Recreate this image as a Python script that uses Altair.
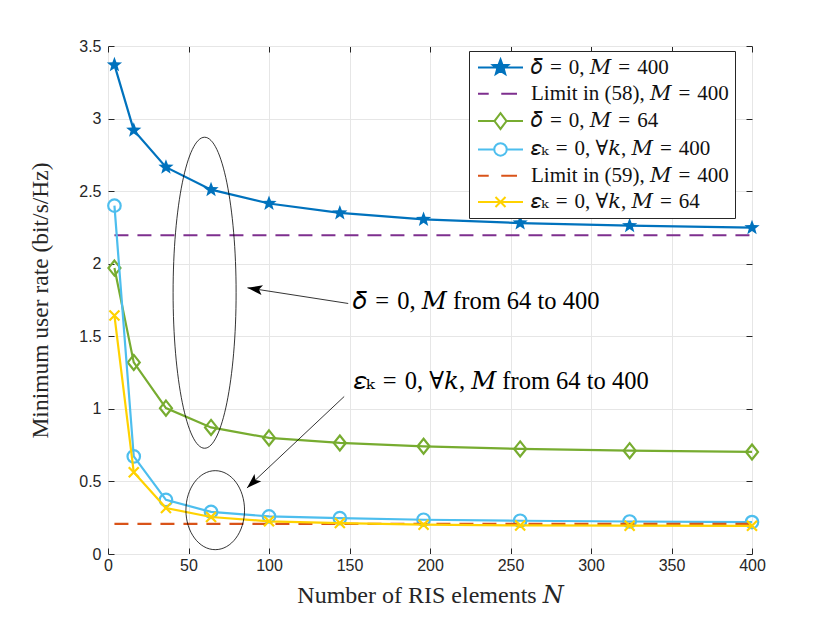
import math
import altair as alt
import pandas as pd

# ---------------- data ----------------
N = [4, 16, 36, 64, 100, 144, 196, 256, 324, 400]
rate_delta_M400 = [3.37, 2.92, 2.665, 2.51, 2.415, 2.35, 2.305, 2.28, 2.262, 2.248]
rate_delta_M64 = [1.97, 1.32, 1.005, 0.872, 0.80, 0.765, 0.742, 0.724, 0.712, 0.703]
rate_eps_M400 = [2.40, 0.672, 0.373, 0.29, 0.259, 0.247, 0.236, 0.229, 0.224, 0.220]
rate_eps_M64 = [1.643, 0.563, 0.317, 0.255, 0.225, 0.213, 0.202, 0.197, 0.195, 0.194]
limit_N = [4, 400]
limit58_M400 = [2.196, 2.196]
limit59_M400 = [0.208, 0.208]

EQ = "\u2004=\u2004"
series_names = [
    f"𝛿{EQ}0, 𝑀{EQ}400",
    f"Limit in (58), 𝑀{EQ}400",
    f"𝛿{EQ}0, 𝑀{EQ}64",
    f"𝜀ₖ{EQ}0, ∀𝑘, 𝑀{EQ}400",
    f"Limit in (59), 𝑀{EQ}400",
    f"𝜀ₖ{EQ}0, ∀𝑘, 𝑀{EQ}64",
]
series_colors = ["#0072BD", "#7E2F8E", "#77AC30", "#4DBEEE", "#D95319", "#FFD200"]

x_ticks = [0, 50, 100, 150, 200, 250, 300, 350, 400]
y_ticks = [0, 0.5, 1, 1.5, 2, 2.5, 3, 3.5]

# annotations (data coordinates)
ellipse_N = [60, 66.6]
ellipse_rate = [1.80, 0.302]
arrow_tail_N = [149.2, 146.7]
arrow_tail_rate = [1.726, 1.085]
arrow_tip_N = [86.6, 86.3]
arrow_tip_rate = [1.834, 0.455]
note_N = [152.3, 152.6]
note_rate = [1.685, 1.14]
note_text = [f"𝛿{EQ}0, 𝑀 from 64 to 400", f"𝜀ₖ{EQ}0, ∀𝑘, 𝑀 from 64 to 400"]

SERIF = "Liberation Serif, DejaVu Serif"

# ---------------- shapes ----------------
def star_path(cx, R, r):
    pts = []
    for k in range(10):
        a = math.radians(-90 + 36 * k)
        rad = R if k % 2 == 0 else r
        pts.append(f"{cx + rad * math.cos(a):.3f},{rad * math.sin(a):.3f}")
    return "M" + " L".join(pts) + " Z"

STAR = star_path(0, 1.0, 0.42)
DIAMOND = "M0,-1 L0.8,0 L0,1 L-0.8,0 Z"
CROSS = "M-1,-1 L1,1 M-1,1 L1,-1"

# legend symbols: line from -1 to 5 units, marker centered at 2
leg_paths = [
    "M-1,0 L5,0 " + star_path(2, 1.07, 0.45),
    "M-1,0 L0.43,0 M2.1,0 L4.2,0",
    "M-1,0 L1.2,0 M2.8,0 L5,0 M2,-1.05 L2.8,0 L2,1.05 L1.2,0 Z",
    "M-1,0 L1.17,0 M2.83,0 L5,0 M2.83,0 A0.83,0.83 0 1,1 1.17,0 A0.83,0.83 0 1,1 2.83,0",
    "M-1,0 L0.43,0 M2.1,0 L4.2,0",
    "M-1,0 L5,0 M1.33,-0.67 L2.67,0.67 M1.33,0.67 L2.67,-0.67",
]
leg_fill = ["#0072BD", "transparent", "transparent", "transparent", "transparent", "transparent"]

def ellipse_path(ratio):
    return (f"M{-ratio:.4f},0 A{ratio:.4f},1 0 1,1 {ratio:.4f},0 "
            f"A{ratio:.4f},1 0 1,1 {-ratio:.4f},0 Z")

ARROW = "M0,0 L0.33,1 L0,0.78 L-0.33,1 Z"

# ---------------- tables ----------------
curves = {
    series_names[0]: (N, rate_delta_M400),
    series_names[1]: (limit_N, limit58_M400),
    series_names[2]: (N, rate_delta_M64),
    series_names[3]: (N, rate_eps_M400),
    series_names[4]: (limit_N, limit59_M400),
    series_names[5]: (N, rate_eps_M64),
}
rows = []
for s, (xs, ys) in curves.items():
    for xv, yv in zip(xs, ys):
        rows.append({"series": s, "N": xv, "rate": yv})
df = pd.DataFrame(rows)

xs_scale = alt.Scale(domain=[0, 400], nice=False, zero=False)
ys_scale = alt.Scale(domain=[0, 3.5], nice=False, zero=False)

AX = "#262626"
x_axis = alt.Axis(values=x_ticks, format="d", title="Number of RIS elements 𝑁",
                  grid=True, gridColor="#e6e6e6", domain=False, ticks=False,
                  labelFont="Liberation Sans", labelFontSize=16, labelColor=AX,
                  labelPadding=3, labelFlush=False, labelOverlap=False,
                  titleFont=SERIF, titleFontSize=24, titleFontWeight="normal",
                  titleColor=AX, titleX=322, titleY=48, titleBaseline="alphabetic",
                  titleAlign="center")
y_axis = alt.Axis(values=y_ticks, format=".1~f", title="Minimum user rate (bit/s/Hz)",
                  grid=True, gridColor="#e6e6e6", domain=False, ticks=False,
                  labelFont="Liberation Sans", labelFontSize=16, labelColor=AX,
                  labelPadding=7, labelFlush=False, labelOverlap=False,
                  titleFont=SERIF, titleFontSize=23.5, titleFontWeight="normal",
                  titleColor=AX, titleX=-61, titleY=254, titleAngle=270,
                  titleBaseline="alphabetic", titleAlign="center")


def X(f):
    return alt.X(f, type="quantitative", scale=xs_scale, axis=x_axis)


def Y(f):
    return alt.Y(f, type="quantitative", scale=ys_scale, axis=y_axis)


layers = []
dashes = [None, [14, 9], None, None, [14, 9], None]
for i, s in enumerate(series_names):
    sub = df[df.series == s]
    lk = dict(color=series_colors[i], strokeWidth=2.2, clip=True)
    if dashes[i]:
        lk["strokeDash"] = dashes[i]
    layers.append(alt.Chart(sub).mark_line(**lk).encode(x=X("N"), y=Y("rate"), order="N:Q"))
    if i == 0:
        layers.append(alt.Chart(sub).mark_point(shape=STAR, size=256, filled=True, opacity=1,
                                                color=series_colors[i], strokeWidth=1)
                      .encode(x=X("N"), y=Y("rate")))
    elif i == 2:
        layers.append(alt.Chart(sub).mark_point(shape=DIAMOND, size=225, filled=False, opacity=1,
                                                color=series_colors[i], strokeWidth=2.2)
                      .encode(x=X("N"), y=Y("rate")))
    elif i == 3:
        layers.append(alt.Chart(sub).mark_point(shape="circle", size=156, filled=False, opacity=1,
                                                color=series_colors[i], strokeWidth=2.2)
                      .encode(x=X("N"), y=Y("rate")))
    elif i == 5:
        layers.append(alt.Chart(sub).mark_point(shape=CROSS, size=100, filled=False, opacity=1,
                                                color=series_colors[i], strokeWidth=2.2)
                      .encode(x=X("N"), y=Y("rate")))

# annotations: ellipses
ell = pd.DataFrame({"N": ellipse_N, "rate": ellipse_rate})
layers.append(alt.Chart(ell.iloc[[0]]).mark_point(shape=ellipse_path(0.2026), size=311 ** 2,
                                                  filled=False, opacity=1, color="black",
                                                  strokeWidth=0.8)
              .encode(x=X("N"), y=Y("rate")))
layers.append(alt.Chart(ell.iloc[[1]]).mark_point(shape=ellipse_path(0.742), size=79 ** 2,
                                                  filled=False, opacity=1, color="black",
                                                  strokeWidth=0.8)
              .encode(x=X("N"), y=Y("rate")))

arr = pd.DataFrame({"N": arrow_tail_N, "rate": arrow_tail_rate,
                    "N2": arrow_tip_N, "rate2": arrow_tip_rate})
layers.append(alt.Chart(arr).mark_rule(color="black", strokeWidth=0.8).encode(
    x=X("N"), y=Y("rate"), x2="N2:Q", y2="rate2:Q"))
for i, ang in enumerate([278.9, 226.8]):
    layers.append(alt.Chart(arr.iloc[[i]]).mark_point(shape=ARROW, size=900, filled=True,
                                                      opacity=1, color="black", angle=ang)
                  .encode(x=X("N2"), y=Y("rate2")))

notes = pd.DataFrame({"N": note_N, "rate": note_rate, "t": note_text})
layers.append(alt.Chart(notes).mark_text(align="left", baseline="alphabetic",
                                         font=SERIF, fontSize=24.5, color="black")
              .encode(x=X("N"), y=Y("rate"), text="t:N"))

# legend carrier: points placed below the plot (clipped away)
leg_df = pd.DataFrame({"series": series_names, "N": [200] * 6, "rate": [-1] * 6})
legend = alt.Legend(title=None, orient="none", legendX=361, legendY=5,
                    strokeColor=AX, fillColor="white", padding=6, cornerRadius=0,
                    labelFont=SERIF, labelFontSize=21, labelColor="#111111",
                    labelLimit=500, labelOffset=35, symbolSize=225, symbolStrokeWidth=2,
                    rowPadding=4.3)
layers.append(alt.Chart(leg_df).mark_point(filled=True, size=225, opacity=1, strokeWidth=2,
                                           clip=True)
              .encode(x=X("N"), y=Y("rate"),
                      shape=alt.Shape("series:N", scale=alt.Scale(domain=series_names, range=leg_paths),
                                      legend=legend),
                      stroke=alt.Stroke("series:N", scale=alt.Scale(domain=series_names, range=series_colors),
                                        legend=legend),
                      fill=alt.Fill("series:N", scale=alt.Scale(domain=series_names, range=leg_fill),
                                    legend=legend)))

main = alt.layer(*layers)

# inward tick marks on all four sides (MATLAB style box ticks)
tick_df = pd.DataFrame({"N": [0], "rate": [0]})
ticks = alt.Chart(tick_df).mark_point(opacity=0, size=1).encode(
    x=alt.X("N:Q", scale=alt.Scale(domain=[0, 400], nice=False, zero=False),
            axis=alt.Axis(orient="top", values=x_ticks, labels=False, ticks=False, domain=False,
                          title=None, grid=True, gridColor=AX, gridWidth=1,
                          gridDash=[6, 496, 6, 3000])),
    y=alt.Y("rate:Q", scale=alt.Scale(domain=[0, 3.5], nice=False, zero=False),
            axis=alt.Axis(orient="right", values=y_ticks, labels=False, ticks=False, domain=False,
                          title=None, grid=True, gridColor=AX, gridWidth=1,
                          gridDash=[6, 632, 6, 3000])),
)

chart = alt.layer(main, ticks).resolve_scale(x="independent", y="independent").properties(
    width=644, height=508,
    autosize=alt.AutoSizeParams(type="none"),
    padding={"left": 100, "top": 38, "right": 60, "bottom": 55},
).configure_view(stroke=AX, strokeWidth=1)

chart.save("out.html", embed_options={"renderer": "svg", "actions": False})
